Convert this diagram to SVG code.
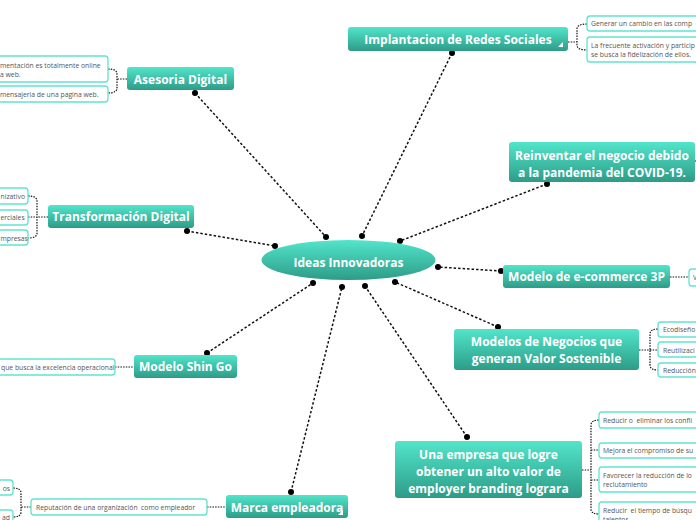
<svg xmlns="http://www.w3.org/2000/svg" width="696" height="520" viewBox="0 0 696 520">
<defs>
<linearGradient id="tg" x1="0" y1="0" x2="0" y2="1"><stop offset="0" stop-color="#52e5cb"/><stop offset="1" stop-color="#2d9c87"/></linearGradient>
</defs>
<style>
.main{fill:url(#tg)}
.mt{font-family:"Open Sans","Noto Sans",sans-serif;font-weight:bold;font-size:12px;fill:#fff;text-anchor:middle}
.sub{fill:#fff;stroke:#62e3cf;stroke-width:1.3}
.st{font-family:"Open Sans","Noto Sans",sans-serif;font-size:6.8px;fill:#555;white-space:pre}
.e{text-anchor:end}
.c{fill:none;stroke:#111;stroke-width:1.5;stroke-dasharray:2.5 2}
.b{fill:none;stroke:#111;stroke-width:1.2;stroke-dasharray:1.5 1.2}
.d{fill:#000}
.tri{fill:#fff}
</style>
<rect width="696" height="520" fill="#fff"/>
<g id="connectors">
<path class="c" d="M195,93 L326,237"/>
<path class="c" d="M452,53 L362,236"/>
<path class="c" d="M547,184 L400,241"/>
<path class="c" d="M187,231 L275,246"/>
<path class="c" d="M501,271 L438,267"/>
<path class="c" d="M498,327 L395,282"/>
<path class="c" d="M467,437 L365,286"/>
<path class="c" d="M291,492 L342,287"/>
<path class="c" d="M207,353 L313,283"/>
<g class="d">
<circle cx="195" cy="93" r="3"/><circle cx="326" cy="237" r="3"/>
<circle cx="452" cy="53" r="3"/><circle cx="362" cy="236" r="3"/>
<circle cx="547" cy="184" r="3"/><circle cx="400" cy="241" r="3"/>
<circle cx="187" cy="231" r="3"/><circle cx="275" cy="246" r="3"/>
<circle cx="501" cy="271" r="3"/><circle cx="438" cy="267" r="3"/>
<circle cx="498" cy="327" r="3"/><circle cx="395" cy="282" r="3"/>
<circle cx="467" cy="437" r="3"/><circle cx="365" cy="286" r="3"/>
<circle cx="291" cy="492" r="3"/><circle cx="342" cy="287" r="3"/>
<circle cx="207" cy="353" r="3"/><circle cx="313" cy="283" r="3"/>
</g>
<path class="b" d="M127,79 H117 M108,69 Q117,69 117,74 V88 Q117,93 108,93"/>
<path class="b" d="M568,42 H577 M587,24 Q577,24 577,29 V45 Q577,50 587,50"/>
<path class="b" d="M48,217 H37 M28,196 Q37,196 37,201 V233 Q37,238 28,238 M28,217 H37"/>
<path class="b" d="M115,367 H134"/>
<path class="b" d="M207,507 H226"/>
<path class="b" d="M31,507 H21 M13,488 Q21,488 21,493 V512 Q21,517 13,517"/>
<path class="b" d="M695,161 H696"/>
<path class="b" d="M670,277 H689"/>
<path class="b" d="M639,350 H650 M658,329 Q650,329 650,334 V365 Q650,370 658,370 M650,350 H658"/>
<path class="b" d="M582,470 H591 M599,420 Q591,420 591,425 V509 Q591,514 599,514 M591,450 H599 M591,480 H599"/>
</g>
<g id="center">
<ellipse class="main" cx="348.5" cy="260" rx="87" ry="20"/>
<text class="mt" x="348.5" y="266.5">Ideas Innovadoras</text>
</g>
<g id="asesoria">
<rect class="main" x="127" y="67" width="107" height="23" rx="3"/>
<text class="mt" x="180.5" y="83.5">Asesoria Digital</text>
<rect class="sub" x="-20" y="56" width="128" height="26" rx="3"/>
<text class="st" x="0" y="67.5">mentación es totalmente online</text>
<text class="st" x="0" y="76.5">a web.</text>
<rect class="sub" x="-20" y="86" width="128" height="16" rx="3"/>
<text class="st" x="0" y="96.5">mensajeria de una pagina web.</text>
</g>
<g id="redes">
<rect class="main" x="348" y="27" width="220" height="24" rx="3"/>
<text class="mt" x="458" y="43.5">Implantacion de Redes Sociales</text>
<polygon class="tri" points="563,42 563,47 558,47"/>
<rect class="sub" x="587" y="16" width="180" height="15" rx="3"/>
<text class="st" x="591" y="26">Generar un cambio en las comp</text>
<rect class="sub" x="587" y="37" width="180" height="25" rx="3"/>
<text class="st" x="591" y="47.5">La frecuente activación y particip</text>
<text class="st" x="591" y="56.5">se busca la fidelización de ellos.</text>
</g>
<g id="reinventar">
<rect class="main" x="509" y="142" width="186" height="40" rx="3"/>
<text class="mt" x="602" y="159.5">Reinventar el negocio debido</text>
<text class="mt" x="602" y="176.5">a la pandemia del COVID-19.</text>
</g>
<g id="transformacion">
<rect class="main" x="48" y="205" width="146" height="23" rx="3"/>
<text class="mt" x="121" y="221">Transformación Digital</text>
<rect class="sub" x="-20" y="188" width="48" height="16" rx="3"/>
<text class="st" x="0.5" y="199">nizativo</text>
<rect class="sub" x="-20" y="210" width="48" height="15" rx="3"/>
<text class="st" x="0.5" y="220">erciales</text>
<rect class="sub" x="-20" y="230" width="48" height="15" rx="3"/>
<text class="st" x="0.5" y="240.5">mpresas</text>
</g>
<g id="ecommerce">
<rect class="main" x="503" y="265" width="167" height="23" rx="3"/>
<text class="mt" x="586.5" y="281">Modelo de e-commerce 3P</text>
<rect class="sub" x="689" y="269" width="60" height="17" rx="3"/>
<text class="st" x="693" y="280">V</text>
</g>
<g id="sostenible">
<rect class="main" x="454" y="329" width="185" height="41" rx="3"/>
<text class="mt" x="546.5" y="346">Modelos de Negocios que</text>
<text class="mt" x="546.5" y="362.5">generan Valor Sostenible</text>
<rect class="sub" x="658" y="322" width="80" height="15" rx="3"/>
<text class="st" x="663" y="332">Ecodiseño</text>
<rect class="sub" x="658" y="342" width="80" height="15" rx="3"/>
<text class="st" x="663" y="352.5">Reutilizaci</text>
<rect class="sub" x="658" y="363" width="80" height="14" rx="3"/>
<text class="st" x="663" y="373">Reducción</text>
</g>
<g id="shingo">
<rect class="main" x="134" y="355" width="103" height="23" rx="3"/>
<text class="mt" x="185.5" y="371">Modelo Shin Go</text>
<rect class="sub" x="-20" y="359" width="135" height="16" rx="3"/>
<text class="st" x="1" y="369.5">que busca la excelencia operacional</text>
</g>
<g id="employer">
<rect class="main" x="395" y="441" width="187" height="57" rx="3"/>
<text class="mt" x="488.5" y="459">Una empresa que logre</text>
<text class="mt" x="488.5" y="476">obtener un alto valor de</text>
<text class="mt" x="488.5" y="492.5">employer branding lograra</text>
<rect class="sub" x="599" y="412" width="120" height="16" rx="3"/>
<text class="st" x="603" y="422.5">Reducir o  eliminar los confli</text>
<rect class="sub" x="599" y="443" width="120" height="15" rx="3"/>
<text class="st" x="603" y="453">Mejora el compromiso de su</text>
<rect class="sub" x="599" y="467" width="120" height="25" rx="3"/>
<text class="st" x="603" y="477.5">Favorecer la reducción de lo</text>
<text class="st" x="603" y="487">reclutamiento</text>
<rect class="sub" x="599" y="502" width="120" height="28" rx="3"/>
<text class="st" x="603" y="512.5">Reducir  el tiempo de búsqu</text>
<text class="st" x="603" y="522">talentos</text>
</g>
<g id="marca">
<rect class="main" x="226" y="495" width="122" height="23" rx="3"/>
<text class="mt" x="287" y="511.5">Marca empleadora</text>
<polygon class="tri" points="343,510 343,515 338,515"/>
<rect class="sub" x="31" y="499" width="176" height="16" rx="3"/>
<text class="st" x="36" y="510">Reputación de una organización  como empleador</text>
<rect class="sub" x="-20" y="480" width="33" height="15" rx="3"/>
<text class="st e" x="10" y="490.5">os</text>
<rect class="sub" x="-20" y="510" width="33" height="20" rx="3"/>
<text class="st e" x="10" y="520">ad</text>
</g>
</svg>
